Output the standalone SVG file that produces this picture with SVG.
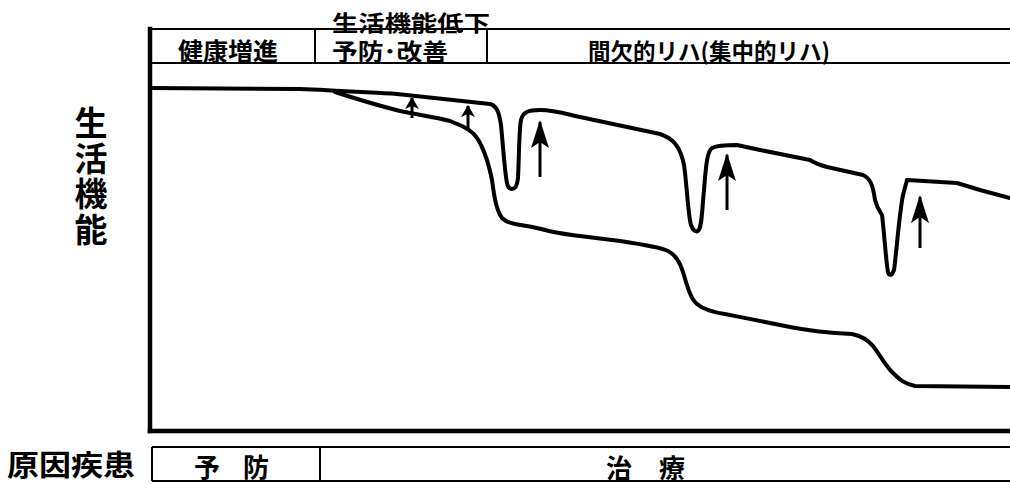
<svg xmlns="http://www.w3.org/2000/svg" width="1010" height="484" viewBox="0 0 1010 484">
  <style>
    .t { font-family: "Noto Sans CJK JP", "Noto Sans CJK SC", sans-serif; font-weight: bold; fill: #000; }
    .thin { stroke: #000; stroke-width: 2; fill: none; }
    .frame { stroke: #000; stroke-width: 4.5; fill: none; stroke-linecap: square; }
    .curve { stroke: #000; stroke-width: 4; fill: none; stroke-linejoin: round; stroke-linecap: round; }
    .shaft { stroke: #000; stroke-width: 3; fill: none; }
  </style>
  <defs>
    <marker id="bigHead" markerUnits="userSpaceOnUse" viewBox="0 0 28 18" markerWidth="28" markerHeight="18" refX="26" refY="9" orient="auto">
      <path d="M0,0 L28,9 L0,18 L6,9 Z" fill="#000"/>
    </marker>
    <marker id="smallHead" markerUnits="userSpaceOnUse" viewBox="0 0 12 14" markerWidth="12" markerHeight="14" refX="11" refY="7" orient="auto">
      <path d="M0,0 L12,7 L0,14 L3,7 Z" fill="#000"/>
    </marker>
  </defs>
  <rect width="1010" height="484" fill="#fff"/>

  <!-- header band -->
  <g id="header">
    <line class="thin" x1="150" y1="29" x2="1010" y2="29"/>
    <line class="thin" x1="150" y1="63" x2="1010" y2="63"/>
    <line class="thin" x1="315" y1="29" x2="315" y2="63"/>
    <line class="thin" x1="487" y1="29" x2="487" y2="63"/>
  </g>
  <g id="cell-kenko">
    <text class="t" x="228" y="60" font-size="24" text-anchor="middle" textLength="100" lengthAdjust="spacingAndGlyphs">健康増進</text>
  </g>
  <g id="cell-yobo">
    <text class="t" x="332" y="31" font-size="22" textLength="158" lengthAdjust="spacingAndGlyphs">生活機能低下</text>
    <text class="t" x="332" y="60" font-size="23" textLength="116" lengthAdjust="spacingAndGlyphs">予防･改善</text>
  </g>
  <g id="cell-rehab">
    <text class="t" x="588" y="60" font-size="23" textLength="242" lengthAdjust="spacingAndGlyphs">間欠的リハ(集中的リハ)</text>
  </g>

  <!-- axis label (vertical) -->
  <g id="axis-label">
    <text class="t" x="91" y="106" font-size="33" letter-spacing="2.5" style="writing-mode: vertical-rl;">生活機能</text>
  </g>

  <!-- graph frame -->
  <g id="frame">
    <line class="frame" x1="150" y1="29" x2="150" y2="431"/>
    <line class="frame" x1="150" y1="431" x2="1010" y2="431"/>
  </g>

  <!-- curves and arrows -->
  <g id="connectors">
    <path class="curve" d="M150,88 L300,89 C330,90 360,92 397,94 L490,104 C497,106 499,112 501,125 C503,145 505,175 507,183 C508,188 510,189 512,189 C515,189 517,187 518,178 C519,160 519,130 521,120 C523,112 528,110 540,110 C555,110 570,115 580,117 L660,134 C672,138 680,145 684,165 C687,185 688,215 691,225 C693,231 696,232 698,231 C702,228 702,210 704,190 C706,165 707,152 712,148 C718,145 728,145 737,145 L760,150 L810,160 C815,163 820,165 827,167 L863,175 C870,178 873,185 875,200 C877,208 880,212 882,215 C884,230 886,262 888,272 C889,276 892,276 894,270 C896,258 899,215 903,195 L907,180 L957,183 L980,190 L1010,198"/>
    <path class="curve" d="M335,92 C360,100 380,106 400,111 C420,115 440,118 450,121 L462,126 C470,130 476,134 481,145 C486,155 489,165 492,180 C494,195 496,210 502,218 C506,222 510,223 515,224 C525,226 535,227 545,230 C555,233 565,234 580,236 L620,241 C640,244 660,247 668,251 C676,255 680,262 683,272 C687,285 690,298 697,304 C703,309 710,312 725,314 C745,318 760,321 790,327 C810,331 830,333 852,334 C862,336 868,340 873,346 C880,355 885,365 893,373 C900,380 905,384 915,386 L1010,387"/>
    <line class="shaft" x1="412" y1="118" x2="412" y2="98" marker-end="url(#smallHead)"/>
    <line class="shaft" x1="468" y1="130" x2="468" y2="106" marker-end="url(#smallHead)"/>
    <line class="shaft" x1="540" y1="177" x2="540" y2="122" marker-end="url(#bigHead)"/>
    <line class="shaft" x1="727" y1="210" x2="727" y2="155" marker-end="url(#bigHead)"/>
    <line class="shaft" x1="920" y1="248" x2="920" y2="197" marker-end="url(#bigHead)"/>
  </g>

  <!-- bottom band -->
  <g id="cause-label">
    <text class="t" x="7" y="476" font-size="29" textLength="128" lengthAdjust="spacingAndGlyphs">原因疾患</text>
  </g>
  <g id="bottom-band">
    <line class="thin" x1="152" y1="447" x2="1010" y2="447"/>
    <line class="thin" x1="152" y1="481" x2="1010" y2="481"/>
    <line class="thin" x1="152" y1="447" x2="152" y2="481"/>
    <line class="thin" x1="320" y1="447" x2="320" y2="481"/>
  </g>
  <g id="cell-prevention">
    <text class="t" x="207" y="477" font-size="26" text-anchor="middle">予</text>
    <text class="t" x="256" y="477" font-size="26" text-anchor="middle">防</text>
  </g>
  <g id="cell-treatment">
    <text class="t" x="619" y="478" font-size="26" text-anchor="middle">治</text>
    <text class="t" x="672" y="478" font-size="26" text-anchor="middle">療</text>
  </g>
</svg>
